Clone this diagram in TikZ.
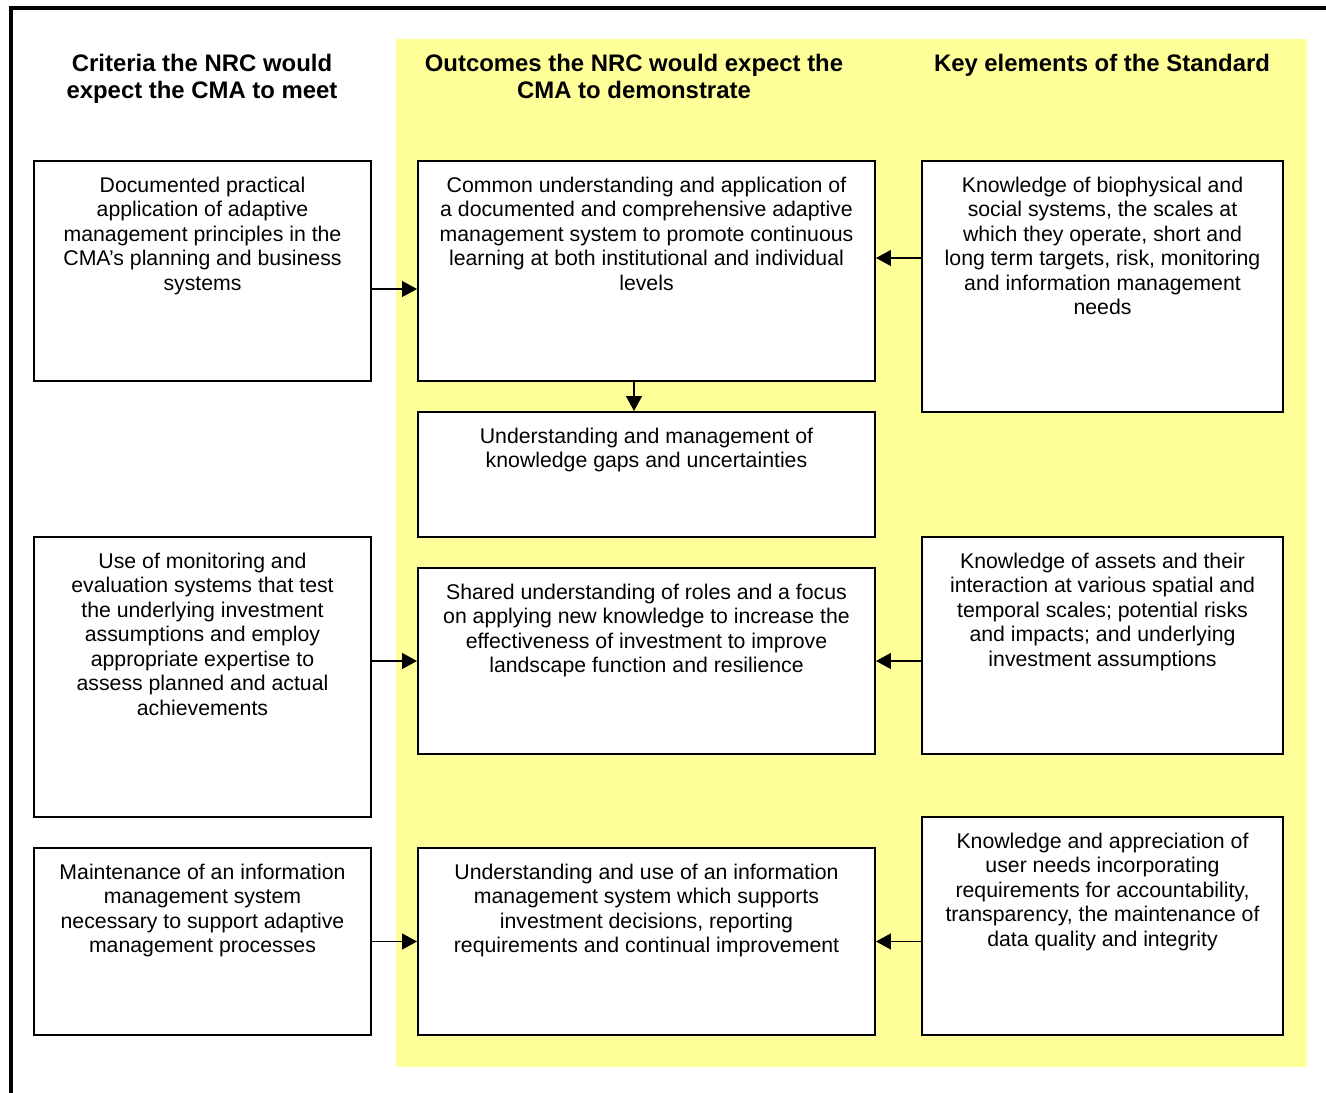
\documentclass[tikz,border=0pt]{standalone}
\usepackage{fontspec}
\setmainfont{Liberation Sans}
\usetikzlibrary{positioning, calc, arrows.meta}
\definecolor{standard-yellow}{HTML}{FFFF99}
\tikzset{
        box/.style={
            draw, line width=1.1pt, fill=white, inner sep=0pt
        },
        criteria-box/.style={box, minimum width=6.74cm},
        outcome-box/.style={box, minimum width=9.14cm},
        element-box/.style={box, minimum width=7.22cm},
        box-text/.style={
            anchor=north, yshift=-9.5pt, inner sep=0pt, align=center,
            font=\fontsize{12.1}{13.94}\selectfont
        },
        heading/.style={
            anchor=north, inner sep=0pt, align=center,
            font=\fontsize{13.6}{15.36}\selectfont\bfseries
        },
        link/.style={line width=0.9pt, -{Triangle[length=8.5pt, width=9pt]}},
}

\begin{document}
\begin{tikzpicture}

        \useasboundingbox (0,0) rectangle (26.52,-21.86);

        % FRAME AND YELLOW COLUMN
        \draw [line width=1.8pt] (26.52,-0.16) -- (0.22,-0.16) -- (0.22,-21.86);
        \fill [standard-yellow]  (7.92,-0.78) rectangle (26.14,-21.34);

        % HEADINGS
        \node[heading] (HEAD0) at (4.04,-1.07)   {Criteria the NRC would\\expect the CMA to meet};
        \node[heading] (HEAD1) at (12.68,-1.07)  {Outcomes the NRC would expect the\\CMA to demonstrate};
        \node[heading] (HEAD2) at (22.04,-1.07)  {Key elements of the Standard};

        % DRAW NODES (criteria on the left)
        \node[criteria-box, minimum height=4.40cm,
              label={[box-text]north:{Documented practical\\application of adaptive\\management principles in the\\CMA’s planning and business\\systems}}]
              (CRIT0) at (4.05,-5.42)   {};
        \node[criteria-box, minimum height=5.60cm,
              label={[box-text]north:{Use of monitoring and\\evaluation systems that test\\the underlying investment\\assumptions and employ\\appropriate expertise to\\assess planned and actual\\achievements}}]
              (CRIT1) at (4.05,-13.54)  {};
        \node[criteria-box, minimum height=3.74cm,
              label={[box-text]north:{Maintenance of an information\\management system\\necessary to support adaptive\\management processes}}]
              (CRIT2) at (4.05,-18.83)  {};

        % DRAW NODES (outcomes in the middle)
        \node[outcome-box, minimum height=4.40cm,
              label={[box-text]north:{Common understanding and application of\\a documented and comprehensive adaptive\\management system to promote continuous\\learning at both institutional and individual\\levels}}]
              (OUT0) at (12.93,-5.42)   {};
        \node[outcome-box, minimum height=2.50cm,
              label={[box-text]north:{Understanding and management of\\knowledge gaps and uncertainties}}]
              (OUT1) at (12.93,-9.49)   {};
        \node[outcome-box, minimum height=3.72cm,
              label={[box-text]north:{Shared understanding of roles and a focus\\on applying new knowledge to increase the\\effectiveness of investment to improve\\landscape function and resilience}}]
              (OUT2) at (12.93,-13.22)  {};
        \node[outcome-box, minimum height=3.74cm,
              label={[box-text]north:{Understanding and use of an information\\management system which supports\\investment decisions, reporting\\requirements and continual improvement}}]
              (OUT3) at (12.93,-18.83)  {};

        % DRAW NODES (key elements on the right)
        \node[element-box, minimum height=5.02cm,
              label={[box-text]north:{Knowledge of biophysical and\\social systems, the scales at\\which they operate, short and\\long term targets, risk, monitoring\\and information management\\needs}}]
              (KEY0) at (22.05,-5.73)   {};
        \node[element-box, minimum height=4.34cm,
              label={[box-text]north:{Knowledge of assets and their\\interaction at various spatial and\\temporal scales; potential risks\\and impacts; and underlying\\investment assumptions}}]
              (KEY1) at (22.05,-12.91)  {};
        \node[element-box, minimum height=4.36cm,
              label={[box-text]north:{Knowledge and appreciation of\\user needs incorporating\\requirements for accountability,\\transparency, the maintenance of\\data quality and integrity}}]
              (KEY2) at (22.05,-18.52)  {};

        % CONNECT CRITERIA TO OUTCOMES
        \draw [link] ($(CRIT0.east)+(0,-0.36)$) -- ($(OUT0.west)+(0,-0.36)$);
        \draw [link] (CRIT1.east |- OUT2.west)  -- (OUT2.west);
        \draw [link] (CRIT2.east)               -- (OUT3.west);

        % CONNECT KEY ELEMENTS TO OUTCOMES
        \draw [link] ($(KEY0.west)+(0,0.57)$)   -- ($(OUT0.east)+(0,0.26)$);
        \draw [link] (KEY1.west |- OUT2.east)   -- (OUT2.east);
        \draw [link] (KEY2.west |- OUT3.east)   -- (OUT3.east);

        % CONNECT OUTCOMES
        \draw [link] ($(OUT0.south)+(-0.25,0)$) -- ($(OUT1.north)+(-0.25,0)$);

\end{tikzpicture}
\end{document}
